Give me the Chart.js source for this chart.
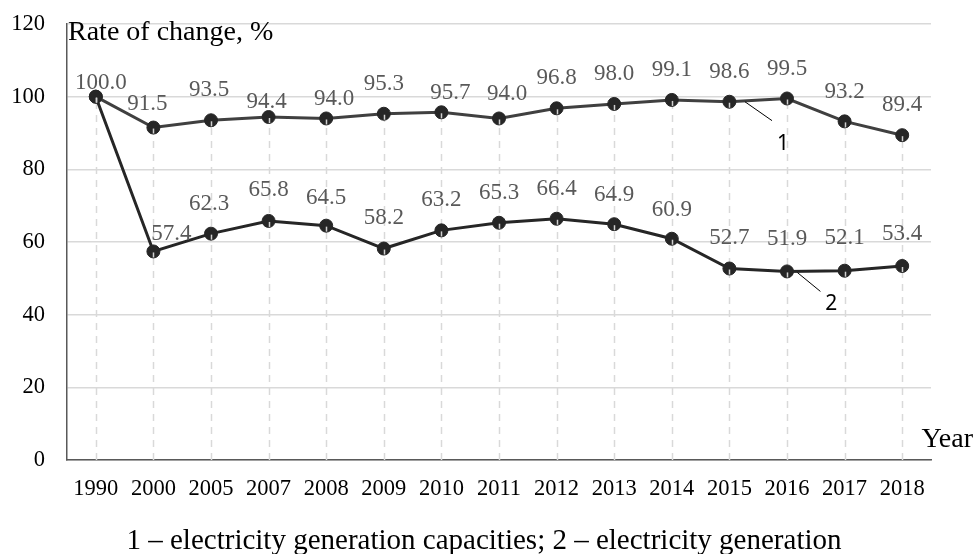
<!DOCTYPE html>
<html>
<head>
<meta charset="utf-8">
<script src="https://cdn.jsdelivr.net/npm/chart.js@4/dist/chart.umd.min.js"></script>
<style>
  html, body { margin: 0; padding: 0; background: #ffffff; }
  #wrap { width: 975px; height: 554px; position: relative; }
</style>
</head>
<body>
<div id="wrap"><canvas id="c" width="975" height="554"></canvas></div>
<script>
// ---- data ----
const years = ['1990','2000','2005','2007','2008','2009','2010','2011','2012','2013','2014','2015','2016','2017','2018'];
const capacities = [100.0, 91.5, 93.5, 94.4, 94.0, 95.3, 95.7, 94.0, 96.8, 98.0, 99.1, 98.6, 99.5, 93.2, 89.4];
const generation = [100.0, 57.4, 62.3, 65.8, 64.5, 58.2, 63.2, 65.3, 66.4, 64.9, 60.9, 52.7, 51.9, 52.1, 53.4];
const yTicks = [0, 20, 40, 60, 80, 100, 120];
const seriesNames = ['1', '2'];
const yTitle = 'Rate of change, %';
const xTitle = 'Year';
const caption = '1 \u2013 electricity generation capacities; 2 \u2013 electricity generation';

// ---- label placement (pixel nudges relative to each point, styling only) ----
const labelShift1 = [[5,-14],[-6,-24],[-2,-30],[-2,-15],[8,-20],[0,-30],[9,-19],[8,-25],[0,-30],[0,-30],[0,-30],[0,-30],[0,-30],[0,-29],[0,-30]];
const labelShift2 = [null,[18,-17],[-2,-30],[0,-31],[0,-28],[0,-31],[0,-30],[0,-30],[0,-30],[0,-29],[0,-29],[0,-31],[0,-32],[0,-33],[0,-32]];
// annotation callouts in data coordinates: [fromIndex, fromValue, toIndex, toValue, labelIndex, labelValue]
const callouts = [
  [11.27, 98.6, 11.74, 93.4, 11.93, 87.1],
  [12.18, 51.6, 12.58, 46.4, 12.77, 42.9]
];

const SERIF = '"Liberation Serif", "Times New Roman", serif';

const overlay = {
  id: 'overlay',
  beforeDatasetsDraw(chart) {
    const ctx = chart.ctx, xs = chart.scales.x, ys = chart.scales.y;
    // drop lines from the highest point of each category to the axis
    ctx.save();
    ctx.strokeStyle = '#d9d9d9';
    ctx.lineWidth = 1.5;
    ctx.setLineDash([7, 6]);
    years.forEach((yr, i) => {
      const top = Math.max(capacities[i], generation[i]);
      const x = Math.round(xs.getPixelForValue(i)) + 0.5;
      ctx.beginPath();
      ctx.moveTo(x, ys.getPixelForValue(0));
      ctx.lineTo(x, ys.getPixelForValue(top));
      ctx.stroke();
    });
    ctx.restore();
  },
  afterDatasetsDraw(chart) {
    const ctx = chart.ctx, xs = chart.scales.x, ys = chart.scales.y;
    ctx.save();
    // light drop line traces visible through markers
    ctx.strokeStyle = '#d0d0d0';
    ctx.lineWidth = 1.5;
    years.forEach((yr, i) => {
      const x = Math.round(xs.getPixelForValue(i)) + 0.5;
      [capacities[i], generation[i]].forEach(v => {
        const y = ys.getPixelForValue(v);
        ctx.beginPath();
        ctx.moveTo(x, y + 1);
        ctx.lineTo(x, y + 6);
        ctx.stroke();
      });
    });
    // data labels
    ctx.fillStyle = '#595959';
    ctx.font = '23px ' + SERIF;
    ctx.textAlign = 'center';
    ctx.textBaseline = 'middle';
    [[capacities, labelShift1, 0], [generation, labelShift2, 1]].forEach(([vals, shifts, di]) => {
      const meta = chart.getDatasetMeta(di);
      vals.forEach((v, i) => {
        const s = shifts[i];
        if (!s) return;
        const pt = meta.data[i];
        ctx.fillText(v.toFixed(1), pt.x + s[0], pt.y + s[1]);
      });
    });
    // callouts
    ctx.strokeStyle = '#000000';
    ctx.lineWidth = 1;
    ctx.fillStyle = '#000000';
    ctx.font = '21px "Noto Sans", "DejaVu Sans", sans-serif';
    callouts.forEach((c, k) => {
      ctx.beginPath();
      ctx.moveTo(xs.getPixelForValue(c[0]), ys.getPixelForValue(c[1]));
      ctx.lineTo(xs.getPixelForValue(c[2]), ys.getPixelForValue(c[3]));
      ctx.stroke();
      ctx.fillText(seriesNames[k], xs.getPixelForValue(c[4]), ys.getPixelForValue(c[5]));
    });
    // axis titles and caption
    ctx.fillStyle = '#000000';
    ctx.textBaseline = 'alphabetic';
    ctx.textAlign = 'left';
    ctx.font = '28px ' + SERIF;
    ctx.fillText(yTitle, chart.chartArea.left + 1, chart.chartArea.top + 16);
    ctx.textAlign = 'right';
    ctx.fillText(xTitle, chart.width - 2, ys.getPixelForValue(0) - 13);
    ctx.textAlign = 'center';
    ctx.font = '29px ' + SERIF;
    ctx.fillText(caption, 484, chart.height - 5);
    ctx.restore();
  }
};

new Chart(document.getElementById('c'), {
  type: 'line',
  data: {
    labels: years,
    datasets: [
      {
        label: seriesNames[0],
        data: capacities,
        borderColor: '#404040',
        borderWidth: 3,
        pointRadius: 6.5,
        pointBackgroundColor: '#262626',
        pointBorderColor: '#262626',
        pointBorderWidth: 1,
        tension: 0
      },
      {
        label: seriesNames[1],
        data: generation,
        borderColor: '#262626',
        borderWidth: 3,
        pointRadius: 6.5,
        pointBackgroundColor: '#262626',
        pointBorderColor: '#262626',
        pointBorderWidth: 1,
        tension: 0
      }
    ]
  },
  options: {
    responsive: false,
    animation: false,
    devicePixelRatio: 1,
    layout: { padding: { top: 24, right: 44, left: 0, bottom: 0 } },
    plugins: {
      legend: { display: false },
      tooltip: { enabled: false },
      title: { display: false }
    },
    scales: {
      x: {
        type: 'category',
        offset: true,
        grid: { display: false, drawTicks: false },
        border: { display: true, color: '#595959', width: 1.5 },
        ticks: {
          color: '#000000',
          font: { family: SERIF, size: 22.5 },
          padding: 16,
          maxRotation: 0,
          autoSkip: false
        },
        afterFit(s) { s.height = 94; s.paddingLeft = 0; s.paddingRight = 0; }
      },
      y: {
        min: 0,
        max: 120,
        afterBuildTicks(s) { s.ticks = yTicks.map(v => ({ value: v })); },
        grid: { color: '#d9d9d9', lineWidth: 1.5, drawTicks: false },
        border: { display: true, color: '#595959', width: 1.5 },
        ticks: {
          color: '#000000',
          font: { family: SERIF, size: 22.5 },
          padding: 22
        },
        afterFit(s) { s.width = 67; s.paddingTop = 0; s.paddingBottom = 0; }
      }
    }
  },
  plugins: [overlay]
});
</script>
</body>
</html>
